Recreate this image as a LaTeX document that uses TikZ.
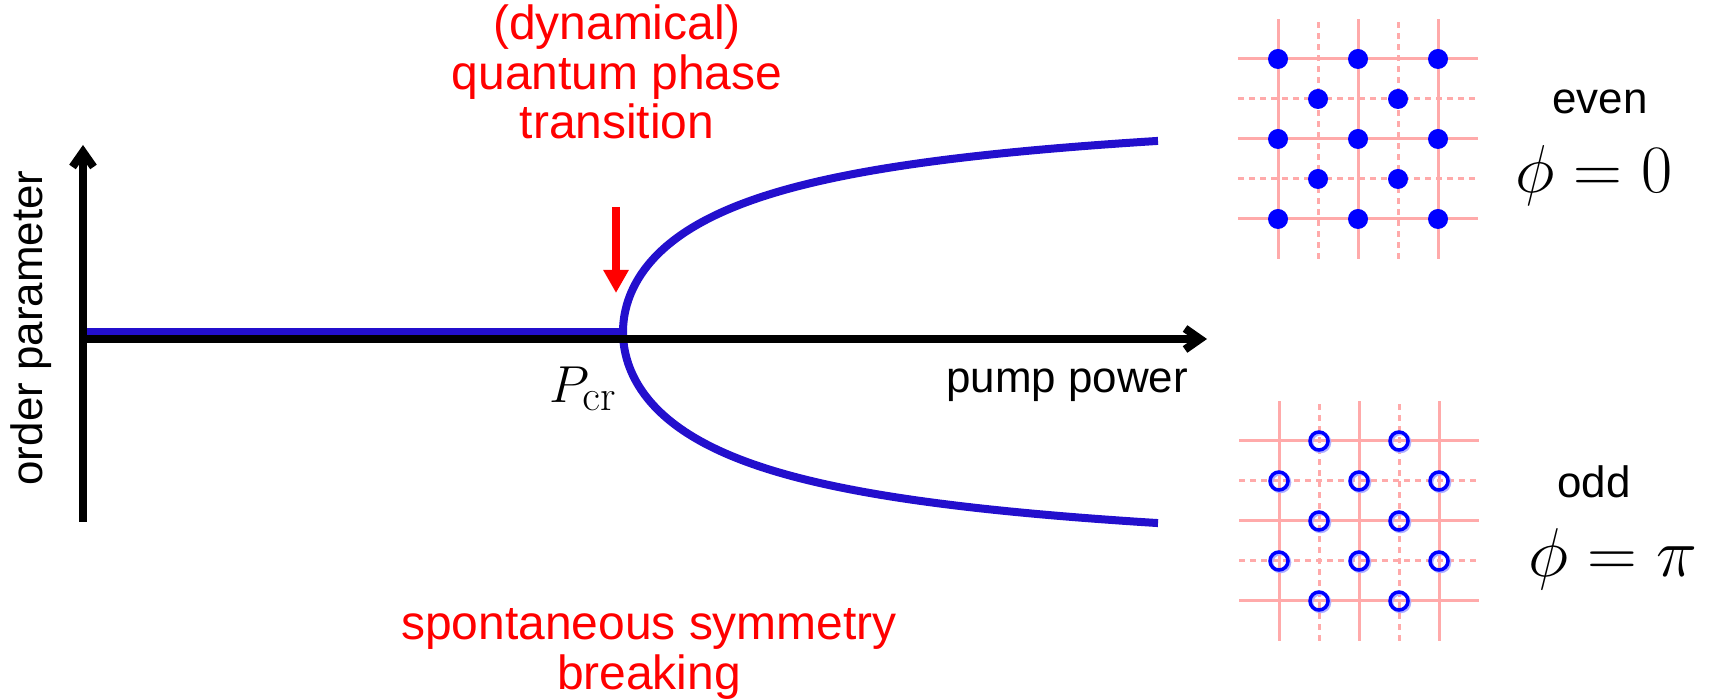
\documentclass[tikz,border=0pt]{standalone}
\usepackage[no-math]{fontspec}
\setmainfont{Liberation Sans}
\usetikzlibrary{arrows.meta, positioning}
\definecolor{CurveBlue}{RGB}{35,15,205}
\definecolor{GridPink}{RGB}{255,170,170}
\definecolor{DotBlue}{RGB}{0,0,255}
\definecolor{RingShadow}{RGB}{175,175,255}

\begin{document}
\begin{tikzpicture}[x=0.02cm, y=0.02cm,
    axisline/.style={line width=0.16cm, -{Straight Barb[length=0.3cm, width=0.42cm]}},
    branch/.style={CurveBlue, line width=0.16cm},
    txt/.style={font=\fontsize{25}{27}\selectfont, align=center, inner sep=0pt},
    redtxt/.style={font=\fontsize{27.3}{28}\selectfont, align=center, inner sep=0pt, text=red},
    mathtxt/.style={font=\fontsize{24.88}{24.88}\selectfont, inner sep=0pt, transform shape},
    solidline/.style={GridPink, line width=0.06cm},
    dashline/.style={GridPink, line width=0.06cm, dash pattern=on 0.12cm off 0.1cm},
    latticedot/.style={fill=DotBlue},
    ring/.style={draw=DotBlue, line width=0.07cm},
    ringshade/.style={draw=RingShadow, line width=0.07cm}]
    \useasboundingbox (0,0) rectangle (1713,699);

    % axes and critical point
    \coordinate (origin) at (83,360);
    \coordinate (xtip) at (1207,360);
    \coordinate (ytip) at (83,554);
    \coordinate (ybot) at (83,177);
    \coordinate (pcr) at (623,367);
    \coordinate (arrtop) at (616,492);
    \coordinate (arrtip) at (616,406);

    % order parameter: zero below P_cr, two branches above
    \draw[branch] (origin |- pcr) -- (pcr);
    \draw[branch] plot[domain=-23.13:23.13, samples=121, smooth] ({623+(\x)^2}, {367+237*(\x)/sqrt(288+(\x)^2)});

    \draw[axisline] (ybot) -- (ytip);
    \draw[axisline] (origin) -- (xtip);

    \draw[red, line width=0.16cm, -{Triangle[length=0.46cm, width=0.48cm]}] (arrtop) -- (arrtip);

    \node[redtxt] (qpt) at (617,627) {(dynamical)\\quantum phase\\transition};
    \node[redtxt] (ssb) at (649,45) {spontaneous symmetry\\breaking};
    \node[txt, rotate=90] (ylabel) at (31,371) {order parameter};
    \node[txt] (xlabel) at (1067,314) {pump power};
    \node[mathtxt, scale=1.19] (pcrlabel) at (583,310) {$P_{\mathrm{cr}}$};

    \node[txt] (even) at (1600,597) {even};
    \node[mathtxt, scale=1.55] (phizero) at (1594,523) {$\phi = 0$};
    \node[txt] (odd) at (1594,217) {odd};
    \node[mathtxt, scale=1.58] (phipi) at (1613,140) {$\phi = \pi$};

    % even lattice
    \begin{scope}[shift={(1358,560)}]
        \foreach \i in {-80,0,80} {
            \draw[solidline] (-120,\i) -- (120,\i);
            \draw[solidline] (\i,-120) -- (\i,120);
        }
        \foreach \i in {-40,40} {
            \draw[dashline] (-120,\i) -- (120,\i);
            \draw[dashline] (\i,-120) -- (\i,120);
        }
        \foreach \i in {-80,0,80}
            \foreach \j in {-80,0,80}
                \fill[latticedot] (\i,\j) circle (10);
        \foreach \i in {-40,40}
            \foreach \j in {-40,40}
                \fill[latticedot] (\i,\j) circle (10);
    \end{scope}

    % odd lattice
    \begin{scope}[shift={(1359,178)}]
        \foreach \i in {-80,0,80} {
            \draw[solidline] (-120,\i) -- (120,\i);
            \draw[solidline] (\i,-120) -- (\i,120);
        }
        \foreach \i in {-40,40} {
            \draw[dashline] (-120,\i) -- (120,\i);
            \draw[dashline] (\i,-120) -- (\i,120);
        }
        \foreach \i in {-40,40}
            \foreach \j in {-80,0,80} {
                \draw[ringshade] (\i+1.5,\j-1.5) circle (9);
                \draw[ringshade] (\j+1.5,\i-1.5) circle (9);
                \draw[ring] (\i,\j) circle (9);
                \draw[ring] (\j,\i) circle (9);
            }
    \end{scope}
\end{tikzpicture}
\end{document}
